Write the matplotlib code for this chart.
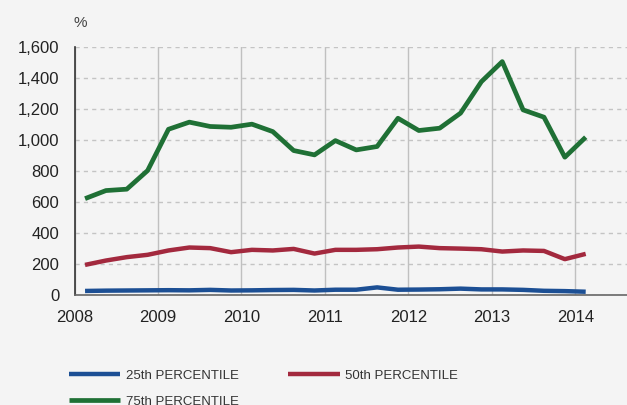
import matplotlib
matplotlib.use("Agg")
import matplotlib.pyplot as plt

# quarterly observations, 2008 Q1 .. 2014 Q1
start_year = 2008
n_quarters = 25
p25 = [25, 27, 28, 29, 30, 29, 32, 28, 29, 31, 32, 28, 33,
       33, 48, 33, 34, 36, 40, 35, 35, 32, 26, 24, 20]
p50 = [193, 221, 243, 258, 286, 305, 301, 275, 290, 286, 296, 266, 290,
       290, 294, 305, 311, 301, 298, 294, 279, 286, 283, 230, 264]
p75 = [620, 672, 681, 801, 1067, 1113, 1085, 1080, 1100, 1052, 930, 902, 994,
       934, 956, 1138, 1059, 1074, 1171, 1374, 1503, 1192, 1145, 887, 1016]
years = [2008, 2009, 2010, 2011, 2012, 2013, 2014]
y_ticks = [0, 200, 400, 600, 800, 1000, 1200, 1400, 1600]

x = [start_year + 0.125 + 0.25 * i for i in range(n_quarters)]

bg = '#f4f4f4'
plt.rcParams['font.family'] = ['Liberation Sans', 'DejaVu Sans']

fig = plt.figure(figsize=(6.27, 4.05), dpi=100, facecolor=bg)
ax = fig.add_axes([0.119, 0.272, 0.881, 0.613], facecolor=bg)

l25, = ax.plot(x, p25, color='#1c4f94', lw=3.2, label='25th PERCENTILE', solid_capstyle='butt')
l50, = ax.plot(x, p50, color='#a3293e', lw=3.2, label='50th PERCENTILE', solid_capstyle='butt')
l75, = ax.plot(x, p75, color='#1f7035', lw=3.4, label='75th PERCENTILE', solid_capstyle='butt')

ax.set_xlim(2008, 2014.62)
ax.set_ylim(0, 1600)
ax.set_xticks(years)
ax.set_yticks(y_ticks)
ax.set_yticklabels([f'{v:,}' for v in y_ticks])
ax.tick_params(labelsize=12, colors='#222222', length=0)
ax.tick_params(axis='x', pad=11)
ax.tick_params(axis='y', pad=11)

ax.grid(axis='y', color='#c4c4c4', linestyle=(0, (3, 3)), lw=1)
ax.grid(axis='x', color='#c0c0c0', linestyle='-', lw=1)
ax.set_axisbelow(True)
for s in ['top', 'right']:
    ax.spines[s].set_visible(False)
ax.spines['left'].set_color('#333333')
ax.spines['bottom'].set_color('#666666')
ax.spines['left'].set_linewidth(1.2)
ax.spines['bottom'].set_linewidth(1.2)

fig.text(0.117, 0.943, '%', fontsize=11, color='#444444', ha='left', va='center')

fig.legend(handles=[l25, l75, l50], ncol=2, frameon=False, fontsize=9.5,
           loc='upper left', bbox_to_anchor=(0.110, 0.088),
           borderpad=0, borderaxespad=0,
           handlelength=3.9, handletextpad=0.4, columnspacing=3.75,
           labelspacing=1.05, labelcolor='#333333')

fig.savefig('out.png', dpi=100, facecolor=bg)
